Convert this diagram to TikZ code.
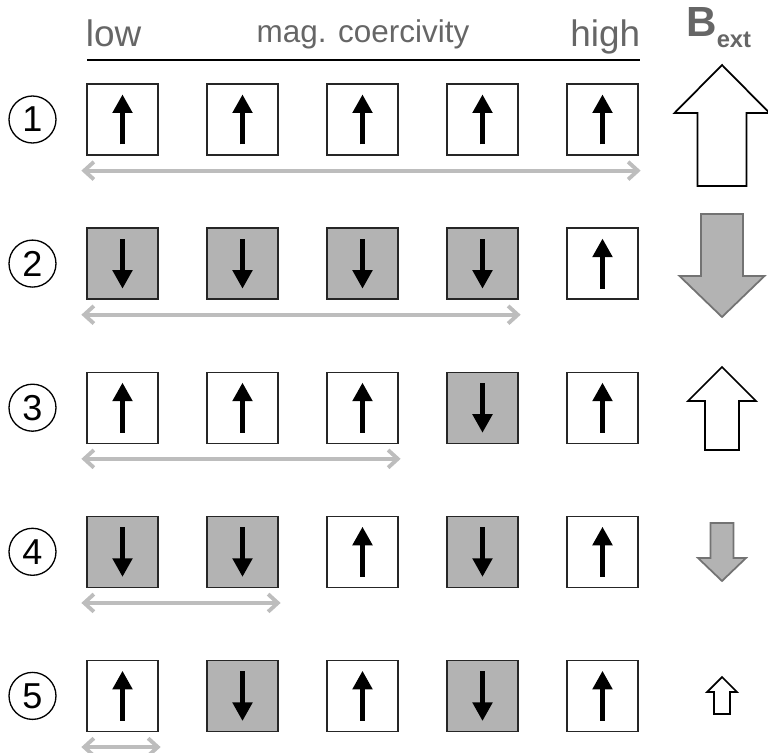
\documentclass[tikz,border=0pt]{standalone}
\usepackage{fontspec}
\setmainfont{Liberation Sans}
\usetikzlibrary{arrows.meta}
\definecolor{cellgray}{HTML}{B3B3B3}
\definecolor{spangray}{HTML}{BDBDBD}
\definecolor{labelgray}{HTML}{666666}

\begin{document}
\begin{tikzpicture}[x=0.02cm,y=-0.02cm,
  cell/.style={draw=black!85,line width=0.75pt,minimum size=1.42cm,inner sep=0pt},
  cell u/.style={cell,fill=white},
  cell d/.style={cell,fill=cellgray},
  spin/.style={line width=2.3pt},
  spin u/.style={spin,-{Triangle[length=10.5pt,width=11pt]}},
  spin d/.style={spin,{Triangle[length=10.5pt,width=11pt]}-},
  span/.style={spangray,line width=2.2pt,line cap=round,{Straight Barb[length=5.5pt,width=10pt]}-{Straight Barb[length=5.5pt,width=10pt]}},
  heading/.style={labelgray,inner sep=0pt},
  rowlabel/.style={circle,draw,line width=0.75pt,minimum size=0.94cm,inner sep=0pt,font=\fontsize{20.5}{21}\selectfont},
  bup/.style={draw=black,fill=white,line width=1pt},
  bdn/.style={draw=black!55,fill=cellgray,line width=1pt}]

\useasboundingbox (0,0) rectangle (768,753);

% header
\node[heading,anchor=base west,font=\fontsize{21}{21}\selectfont] (low) at (85.5,47) {low};
\node[heading,anchor=base,font=\fontsize{17.9}{18}\selectfont] (coerc) at (363,43) {mag. coercivity};
\node[heading,anchor=base east,font=\fontsize{21}{21}\selectfont] (high) at (640.5,47) {high};
\coordinate (rule-l) at (87,60);
\coordinate (rule-r) at (640,60);
\draw[line width=1.1pt] (rule-l) -- (rule-r);
\node[heading,anchor=base west,font=\fontsize{24}{24}\bfseries] (bext) at (686,37) {B\raisebox{-5.7pt}{\fontsize{13.5}{14}\selectfont ext}};

% cells
\foreach \pat [count=\r] in {{u,u,u,u,u},{d,d,d,d,u},{u,u,u,d,u},{d,d,u,d,u},{u,d,u,d,u}} {
  \node[rowlabel] (n-\r) at (32.5,-24.6+144.1*\r) {\r};
  \foreach \s [count=\c] in \pat {
    \node[cell \s] (b-\r-\c) at (2.5+120*\c,-24.6+144.1*\r) {};
    \draw[spin \s] ([yshift=-0.5cm]b-\r-\c.center) -- ([yshift=0.5cm]b-\r-\c.center);
  }
  \pgfmathtruncatemacro\k{6-\r}
  \draw[span] ([shift={(-0.1cm,-0.3cm)}]b-\r-1.south west) -- ([shift={(0.04cm,-0.3cm)}]b-\r-\k.south east);
}

% external field
\foreach \t/\hb/\tip/\hw/\sw/\sty in {186/113/65/95/49/bup,214/276/317/85/42/bdn,450/401/367/68/34/bup,523/558/581/48/23/bdn,714/692/677/30/16/bup}
  \draw[\sty] (722-\sw/2,\t) -- (722-\sw/2,\hb) -- (722-\hw/2,\hb) -- (722,\tip) -- (722+\hw/2,\hb) -- (722+\sw/2,\hb) -- (722+\sw/2,\t) -- cycle;
\end{tikzpicture}
\end{document}
